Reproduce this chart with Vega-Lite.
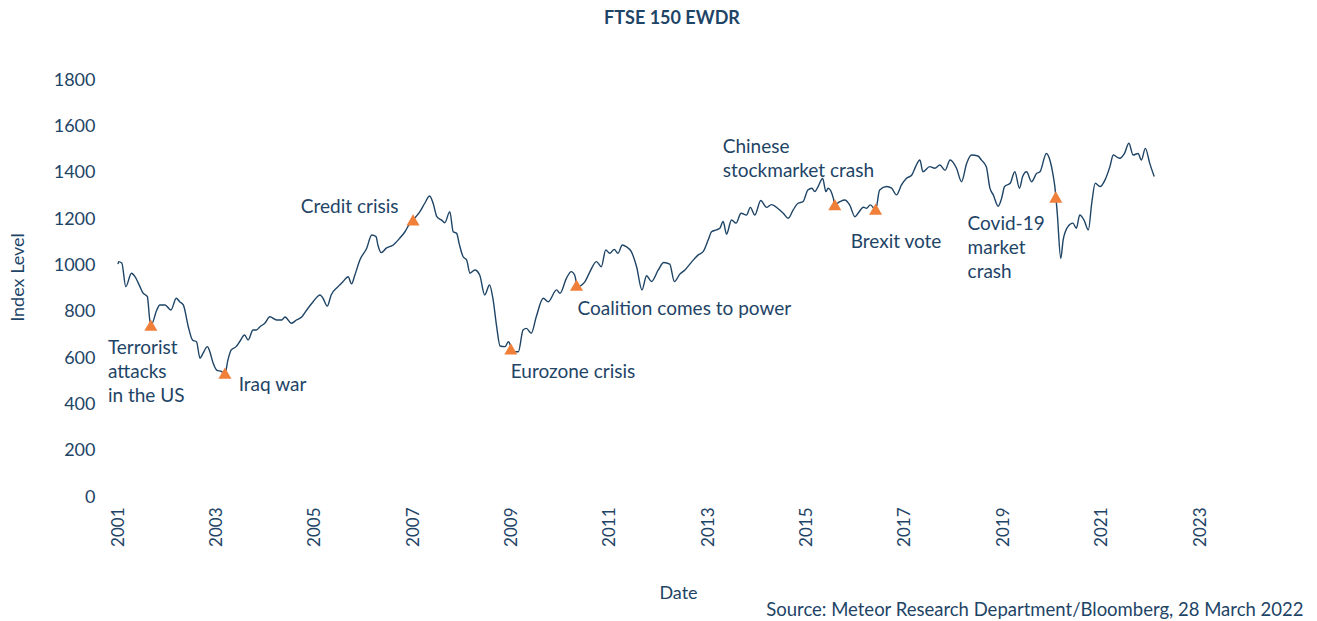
{
 "$schema": "https://vega.github.io/schema/vega-lite/v6.json",
 "width": 1082, "height": 417,
 "autosize": {"type": "none"},
 "padding": {"left": 118, "top": 80, "right": 117, "bottom": 124},
 "background": "#ffffff",
 "title": {"text": "FTSE 150 EWDR", "font": "Lato", "fontSize": 18, "fontWeight": "bold", "color": "#1e4466", "anchor": "middle", "dx": 13, "offset": 43},
 "config": {"view": {"stroke": null}, "title": {"fontSize": 18}, "axis": {"domain": false, "ticks": false, "grid": false, "labelFont": "Lato", "titleFont": "Lato", "labelColor": "#1e4466", "titleColor": "#1e4466", "titleFontWeight": "normal"}},
 "datasets": {
  "series": [
   {"date":"2001-01-01","value":1005},{"date":"2001-01-05","value":1016},{"date":"2001-01-29","value":1010},{"date":"2001-02-28","value":908},{"date":"2001-04-11","value":966},{"date":"2001-05-07","value":951},{"date":"2001-06-13","value":908},{"date":"2001-07-04","value":882},{"date":"2001-08-07","value":865},{"date":"2001-08-25","value":764},{"date":"2001-09-06","value":745},{"date":"2001-10-16","value":807},{"date":"2001-11-07","value":829},{"date":"2001-12-16","value":829},
   {"date":"2002-01-29","value":807},{"date":"2002-03-10","value":858},{"date":"2002-04-04","value":843},{"date":"2002-05-01","value":829},{"date":"2002-06-07","value":735},{"date":"2002-07-08","value":678},{"date":"2002-08-07","value":670},{"date":"2002-09-02","value":599},{"date":"2002-09-24","value":620},{"date":"2002-10-27","value":649},{"date":"2002-11-14","value":627},{"date":"2002-12-09","value":577},
   {"date":"2003-01-04","value":548},{"date":"2003-02-10","value":541},{"date":"2003-03-06","value":530},{"date":"2003-03-28","value":591},{"date":"2003-04-22","value":635},{"date":"2003-05-28","value":649},{"date":"2003-06-23","value":670},{"date":"2003-07-30","value":699},{"date":"2003-08-25","value":678},{"date":"2003-10-01","value":721},{"date":"2003-10-26","value":721},{"date":"2003-11-21","value":735},{"date":"2003-12-27","value":750},
   {"date":"2004-02-03","value":778},{"date":"2004-03-24","value":764},{"date":"2004-05-01","value":764},{"date":"2004-05-25","value":777},{"date":"2004-07-12","value":750},{"date":"2004-08-18","value":764},{"date":"2004-09-28","value":778},{"date":"2004-11-02","value":807},{"date":"2004-12-20","value":843},
   {"date":"2005-02-10","value":872},{"date":"2005-03-03","value":858},{"date":"2005-04-04","value":824},{"date":"2005-05-03","value":872},{"date":"2005-06-23","value":908},{"date":"2005-07-30","value":930},{"date":"2005-09-06","value":951},{"date":"2005-10-01","value":920},{"date":"2005-10-26","value":958},{"date":"2005-12-02","value":1023},
   {"date":"2006-01-22","value":1074},{"date":"2006-02-28","value":1131},{"date":"2006-04-01","value":1124},{"date":"2006-04-15","value":1088},{"date":"2006-05-10","value":1055},{"date":"2006-06-16","value":1074},{"date":"2006-08-07","value":1088},{"date":"2006-09-24","value":1117},{"date":"2006-11-02","value":1145},{"date":"2006-12-09","value":1182},
   {"date":"2007-01-01","value":1196},{"date":"2007-02-21","value":1232},{"date":"2007-03-29","value":1268},{"date":"2007-05-04","value":1299},{"date":"2007-05-30","value":1268},{"date":"2007-06-27","value":1210},{"date":"2007-07-30","value":1196},{"date":"2007-08-25","value":1184},{"date":"2007-10-01","value":1232},{"date":"2007-10-26","value":1145},{"date":"2007-11-21","value":1138},{"date":"2007-12-09","value":1095},
   {"date":"2008-01-08","value":1037},{"date":"2008-02-03","value":1023},{"date":"2008-02-28","value":966},{"date":"2008-04-04","value":980},{"date":"2008-05-10","value":958},{"date":"2008-06-16","value":872},{"date":"2008-07-22","value":915},{"date":"2008-08-18","value":850},{"date":"2008-09-13","value":735},{"date":"2008-10-08","value":652},{"date":"2008-11-14","value":649},{"date":"2008-12-09","value":670},
   {"date":"2009-01-15","value":627},{"date":"2009-02-21","value":627},{"date":"2009-03-28","value":721},{"date":"2009-04-22","value":728},{"date":"2009-05-28","value":707},{"date":"2009-07-04","value":778},{"date":"2009-08-25","value":858},{"date":"2009-10-01","value":843},{"date":"2009-12-02","value":894},{"date":"2009-12-27","value":879},
   {"date":"2010-02-13","value":944},{"date":"2010-03-21","value":973},{"date":"2010-04-15","value":958},{"date":"2010-05-07","value":908},{"date":"2010-07-01","value":930},{"date":"2010-08-07","value":973},{"date":"2010-09-24","value":1016},{"date":"2010-10-30","value":994},{"date":"2010-12-02","value":1066},
   {"date":"2011-01-01","value":1052},{"date":"2011-02-03","value":1069},{"date":"2011-03-03","value":1052},{"date":"2011-04-04","value":1088},{"date":"2011-05-03","value":1081},{"date":"2011-06-10","value":1059},{"date":"2011-07-19","value":994},{"date":"2011-08-28","value":894},{"date":"2011-10-01","value":955},{"date":"2011-11-07","value":930},{"date":"2011-12-27","value":980},
   {"date":"2012-02-06","value":1012},{"date":"2012-03-21","value":1005},{"date":"2012-04-25","value":930},{"date":"2012-06-04","value":962},{"date":"2012-07-12","value":980},{"date":"2012-09-02","value":1016},{"date":"2012-10-19","value":1045},{"date":"2012-11-24","value":1059},
   {"date":"2013-01-01","value":1110},{"date":"2013-01-26","value":1145},{"date":"2013-03-03","value":1153},{"date":"2013-03-28","value":1160},{"date":"2013-04-22","value":1189},{"date":"2013-05-17","value":1135},{"date":"2013-06-23","value":1196},{"date":"2013-07-26","value":1182},{"date":"2013-09-02","value":1225},{"date":"2013-10-12","value":1217},{"date":"2013-11-10","value":1250},{"date":"2013-12-13","value":1217},
   {"date":"2014-01-26","value":1280},{"date":"2014-03-10","value":1250},{"date":"2014-04-15","value":1262},{"date":"2014-06-07","value":1243},{"date":"2014-07-12","value":1225},{"date":"2014-08-18","value":1203},{"date":"2014-09-24","value":1239},{"date":"2014-10-30","value":1268},{"date":"2014-12-06","value":1275},
   {"date":"2015-01-11","value":1325},{"date":"2015-02-10","value":1333},{"date":"2015-03-03","value":1318},{"date":"2015-03-28","value":1340},{"date":"2015-05-01","value":1375},{"date":"2015-05-25","value":1318},{"date":"2015-06-10","value":1333},{"date":"2015-07-19","value":1290},{"date":"2015-07-30","value":1262},{"date":"2015-09-06","value":1275},{"date":"2015-10-12","value":1282},{"date":"2015-11-17","value":1261},{"date":"2015-12-27","value":1210},
   {"date":"2016-01-19","value":1225},{"date":"2016-02-28","value":1251},{"date":"2016-03-21","value":1246},{"date":"2016-04-19","value":1261},{"date":"2016-05-28","value":1240},{"date":"2016-06-27","value":1325},{"date":"2016-08-18","value":1340},{"date":"2016-09-24","value":1333},{"date":"2016-10-30","value":1304},{"date":"2016-12-06","value":1347},
   {"date":"2017-01-11","value":1375},{"date":"2017-02-21","value":1390},{"date":"2017-03-21","value":1426},{"date":"2017-04-22","value":1455},{"date":"2017-05-14","value":1404},{"date":"2017-07-04","value":1426},{"date":"2017-08-10","value":1419},{"date":"2017-09-17","value":1433},{"date":"2017-10-26","value":1410},{"date":"2017-12-02","value":1455},
   {"date":"2018-01-19","value":1419},{"date":"2018-02-25","value":1361},{"date":"2018-04-04","value":1440},{"date":"2018-05-10","value":1476},{"date":"2018-06-27","value":1472},{"date":"2018-07-22","value":1455},{"date":"2018-08-28","value":1426},{"date":"2018-09-24","value":1333},{"date":"2018-10-19","value":1304},{"date":"2018-11-24","value":1255},{"date":"2018-12-20","value":1290},
   {"date":"2019-01-11","value":1340},{"date":"2019-02-21","value":1354},{"date":"2019-03-28","value":1404},{"date":"2019-05-01","value":1333},{"date":"2019-05-25","value":1383},{"date":"2019-06-23","value":1404},{"date":"2019-07-30","value":1361},{"date":"2019-09-06","value":1397},{"date":"2019-10-01","value":1404},{"date":"2019-11-17","value":1483},{"date":"2019-12-13","value":1455},
   {"date":"2020-01-08","value":1383},{"date":"2020-01-19","value":1340},{"date":"2020-02-06","value":1225},{"date":"2020-03-03","value":1030},{"date":"2020-03-21","value":1110},{"date":"2020-04-25","value":1167},{"date":"2020-06-01","value":1182},{"date":"2020-06-27","value":1160},{"date":"2020-07-22","value":1217},{"date":"2020-08-22","value":1196},{"date":"2020-09-24","value":1153},{"date":"2020-10-19","value":1268},{"date":"2020-11-14","value":1354},{"date":"2020-12-20","value":1340},
   {"date":"2021-01-26","value":1369},{"date":"2021-03-03","value":1426},{"date":"2021-03-28","value":1476},{"date":"2021-05-14","value":1462},{"date":"2021-06-19","value":1483},{"date":"2021-07-22","value":1527},{"date":"2021-08-22","value":1476},{"date":"2021-09-28","value":1483},{"date":"2021-10-23","value":1455},{"date":"2021-11-21","value":1505},{"date":"2021-12-24","value":1440},
   {"date":"2022-01-26","value":1383}
  ],
  "events": [
   {"event":"Terrorist attacks in the US","date":"2001-09-02","value":742},
   {"event":"Iraq war","date":"2003-03-06","value":535},
   {"event":"Credit crisis","date":"2007-01-01","value":1196},
   {"event":"Eurozone crisis","date":"2008-12-27","value":639},
   {"event":"Coalition comes to power","date":"2010-04-29","value":915},
   {"event":"Chinese stockmarket crash","date":"2015-07-30","value":1262},
   {"event":"Brexit vote","date":"2016-05-28","value":1243},
   {"event":"Covid-19 market crash","date":"2020-01-26","value":1295}
  ],
  "labels": [
   {"label":"Terrorist\nattacks\nin the US","date":"2000-10-18","value":695},
   {"label":"Iraq war","date":"2003-06-16","value":535},
   {"label":"Credit crisis","date":"2004-09-20","value":1304},
   {"label":"Eurozone crisis","date":"2008-12-27","value":591},
   {"label":"Coalition comes to power","date":"2010-05-07","value":863},
   {"label":"Chinese\nstockmarket crash","date":"2013-04-19","value":1563},
   {"label":"Brexit vote","date":"2015-11-25","value":1153},
   {"label":"Covid-19\nmarket\ncrash","date":"2018-04-11","value":1230}
  ]
 },
 "resolve": {"axis": {"x": "independent"}},
 "layer": [
  {
   "data": {"name": "series"},
   "mark": {"type": "line", "interpolate": "monotone", "color": "#1e4466", "strokeWidth": 1.4},
   "encoding": {
    "x": {"field": "date", "type": "temporal",
      "scale": {"domain": [{"year": 2001, "month": 1, "date": 1}, {"year": 2023, "month": 1, "date": 1}]},
      "axis": {"title": "Date", "titleFontSize": 18, "titlePadding": 38, "titleX": 560, "labelFontSize": 17, "labelAngle": -90, "labelPadding": 10, "format": "%Y",
        "values": [{"year":2001},{"year":2003},{"year":2005},{"year":2007},{"year":2009},{"year":2011},{"year":2013},{"year":2015},{"year":2017},{"year":2019},{"year":2021},{"year":2023}]}},
    "y": {"field": "value", "type": "quantitative", "scale": {"domain": [0, 1800]},
      "axis": {"title": "Index Level", "titleFontSize": 18, "titlePadding": 26, "titleY": 197, "labelFontSize": 18, "labelPadding": 23, "format": "d", "values": [0,200,400,600,800,1000,1200,1400,1600,1800]}}
   }
  },
  {
   "data": {"name": "events"},
   "mark": {"type": "point", "shape": "triangle-up", "filled": true, "color": "#f07f3a", "size": 170, "opacity": 1},
   "encoding": {
    "x": {"field": "date", "type": "temporal",
      "axis": {"orient": "bottom", "labels": false, "title": "Source: Meteor Research Department/Bloomberg, 28 March 2022", "titleFontSize": 18.5, "titleAlign": "right", "titleBaseline": "middle", "titleX": 1185, "titleY": 112}},
    "y": {"field": "value", "type": "quantitative"}
   }
  },
  {
   "data": {"name": "labels"},
   "mark": {"type": "text", "font": "Lato", "fontSize": 19, "align": "left", "baseline": "top", "dy": 3, "lineBreak": "\n", "lineHeight": 24, "color": "#1e4466"},
   "encoding": {
    "x": {"field": "date", "type": "temporal", "axis": null},
    "y": {"field": "value", "type": "quantitative"},
    "text": {"field": "label"}
   }
  }
 ]
}
